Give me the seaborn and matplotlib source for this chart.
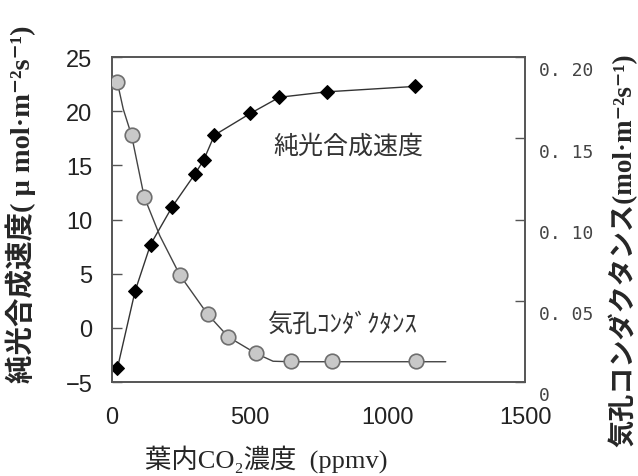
#!/usr/bin/env python3
import warnings
import numpy as np
import pandas as pd
import seaborn as sns
import matplotlib.pyplot as plt
from matplotlib.transforms import ScaledTranslation

warnings.filterwarnings("ignore")
sns.set_style("white")
plt.rcParams["font.family"] = ["Noto Sans CJK JP", "DejaVu Sans"]

# net photosynthesis (left axis)
co2_ps = [20, 84, 140, 219, 301, 333, 372, 502, 608, 779, 1099]
ps_rate = [-3.7, 3.4, 7.7, 11.2, 14.2, 15.5, 17.8, 19.8, 21.3, 21.8, 22.3]

# stomatal conductance (right axis)
co2_gs = [17, 71, 117, 247, 347, 423, 523, 650, 799, 1105]
gs = [0.185, 0.152, 0.114, 0.066, 0.042, 0.028, 0.018, 0.013, 0.0127, 0.0127]

# hand-drawn fitted curve through the conductance points
fit_x = [19, 41, 71, 117, 174, 247, 347, 423, 523, 585, 650, 800, 1105, 1212]
fit_g = [0.185, 0.168, 0.152, 0.114, 0.090, 0.0657, 0.0418, 0.0277, 0.0176, 0.0128, 0.0125, 0.0125, 0.0125, 0.0125]

x_ticks = [0, 500, 1000, 1500]
left_ticks = [-5, 0, 5, 10, 15, 20, 25]
right_ticks = [0, 0.05, 0.10, 0.15, 0.20]
right_labels = ["0", "0. 05", "0. 10", "0. 15", "0. 20"]

SPINE = "#555555"
NUM_FONT = ["Liberation Sans Narrow", "Liberation Sans", "DejaVu Sans"]
LBL_FONT = ["Liberation Serif", "Noto Sans CJK JP", "DejaVu Sans"]

fig = plt.figure(figsize=(6.38, 4.77), dpi=100)
ax = fig.add_axes([0.1755, 0.197, 0.6475, 0.681])

sns.lineplot(x=co2_ps, y=ps_rate, ax=ax, estimator=None, color="#333333", lw=1,
             marker="D", markersize=7, markerfacecolor="black", markeredgecolor="black")
ax.set_xlim(0, 1500)
ax.set_ylim(-5, 25)
ax.set_xticks(x_ticks)
ax.set_yticks(left_ticks)
ax.set_xticklabels([str(v) for v in x_ticks], family=NUM_FONT, fontsize=17, color="#222222")
ax.set_yticklabels(["\u22125" if v == -5 else str(v) for v in left_ticks], family=NUM_FONT,
                   fontsize=17, color="#222222")
ax.tick_params(axis="x", direction="in", length=7, width=1, color=SPINE, pad=17)
ax.tick_params(axis="y", direction="in", length=7, width=1, color=SPINE, pad=14)

ax.set_xlabel("葉内CO₂濃度  (ppmv)", family=LBL_FONT, fontsize=19)
ax.xaxis.set_label_coords(0.373, -0.19)
ax.set_ylabel("純光合成速度( μ mol·m⁻²s⁻¹)", family=LBL_FONT, fontsize=20.5, fontweight="bold")
ax.yaxis.set_label_coords(-0.185, 0.55)

ax.text(585, 16.8, "純光合成速度", fontsize=18, color="#333333", va="center", ha="left")
ax.text(562, 0.35, "気孔ｺﾝﾀﾞｸﾀﾝｽ", fontsize=18, color="#333333", va="center", ha="left")

ax2 = ax.twinx()
sns.lineplot(x=fit_x, y=fit_g, ax=ax2, sort=False, estimator=None, color="#444444", lw=1)
sns.scatterplot(x=co2_gs, y=gs, ax=ax2, s=110, color="#c8c8c8", edgecolor="#6e6e6e",
                linewidth=1.2, zorder=5)
ax2.set_ylim(0, 0.2)
ax2.set_yticks(right_ticks)
ax2.set_yticklabels(right_labels, family=["DejaVu Sans Mono"], fontsize=13, color="#444444")
ax2.tick_params(axis="y", direction="in", length=7, width=1, color=SPINE, pad=10)
ax2.set_ylabel("気孔コンダクタンス(mol·m⁻²s⁻¹)", family=LBL_FONT, fontsize=19.5, fontweight="bold")
ax2.yaxis.set_label_coords(1.2, 0.41)
off = ScaledTranslation(0, -8 / 72, fig.dpi_scale_trans)
for lbl in ax2.get_yticklabels():
    lbl.set_transform(lbl.get_transform() + off)

for a in (ax, ax2):
    for s in a.spines.values():
        s.set_color(SPINE)
        s.set_linewidth(1.2)

fig.savefig("out.png", dpi=100)
